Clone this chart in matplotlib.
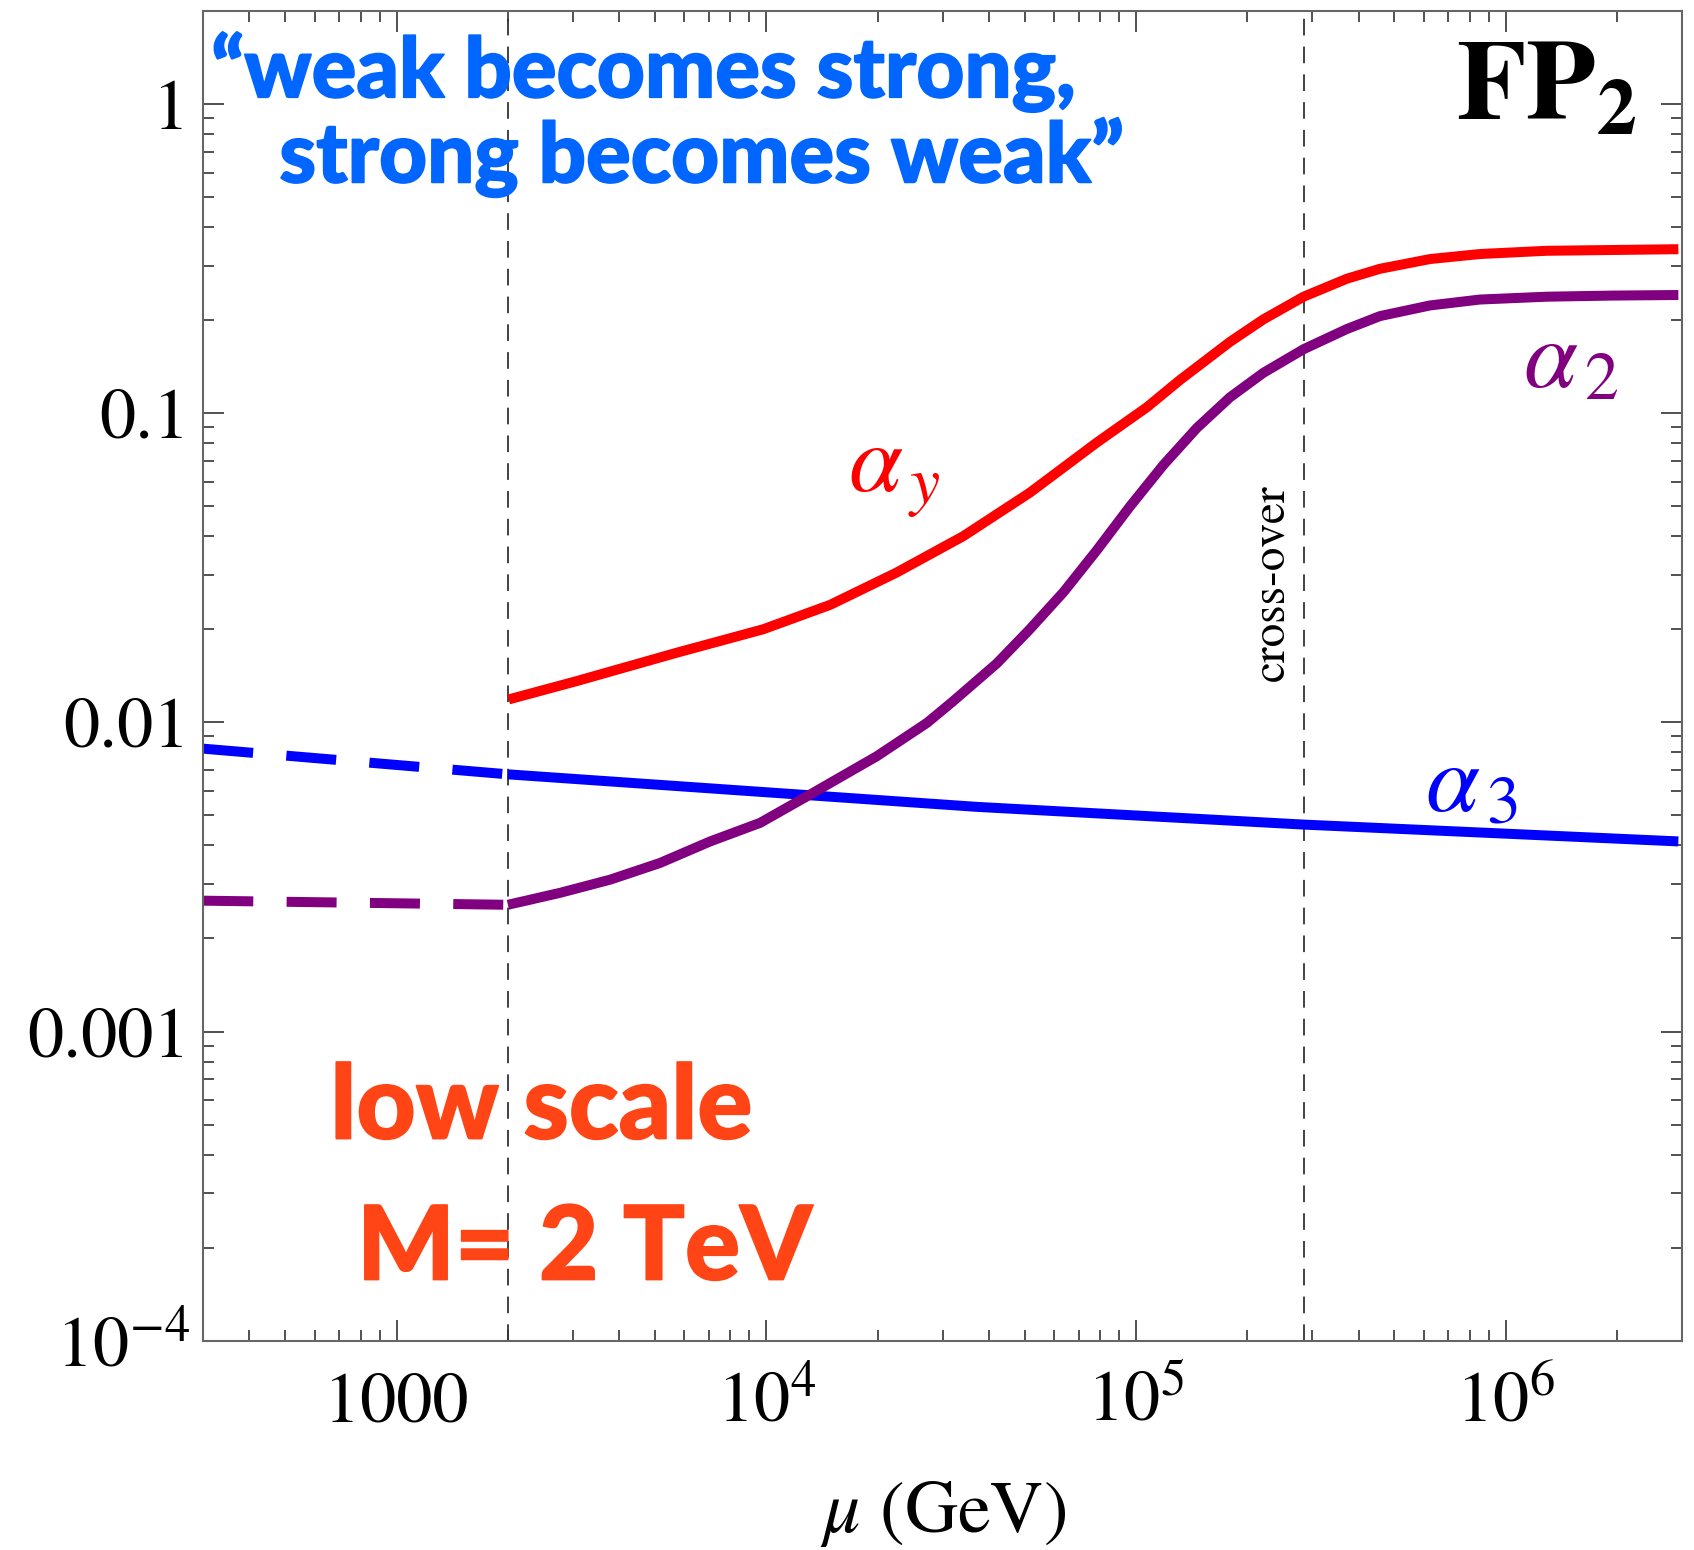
import numpy as np
import matplotlib
matplotlib.use("Agg")
import matplotlib.pyplot as plt
import matplotlib.patheffects as pe
from matplotlib.ticker import FixedLocator, LogLocator, NullFormatter

plt.rcParams['mathtext.fontset'] = 'stix'
plt.rcParams['font.family'] = ['STIXGeneral', 'DejaVu Serif']
plt.rcParams['lines.scale_dashes'] = False

# running couplings (mu in GeV)
mu_low = [300, 2000]
a3_low = [0.00822, 0.00679]
a2_low = [0.00265, 0.00257]

mu_a3 = [2000, 37000, 284000, 2.93e6]
a3 = [0.00679, 0.00533, 0.00467, 0.00412]

mu_ay = [2010, 3073, 5730, 9810, 14900, 22500, 34100, 51600, 78300, 107000,
         131500, 179500, 221000, 284000, 371500, 457000, 624000, 851000, 1.29e6, 1.95e6, 2.93e6]
ay = [0.01186, 0.0136, 0.0168, 0.0200, 0.0240, 0.0305, 0.0400, 0.0553, 0.0803, 0.1045,
      0.128, 0.170, 0.201, 0.238, 0.272, 0.293, 0.315, 0.327, 0.335, 0.337, 0.339]

mu_a2 = [2000, 2770, 3785, 5160, 7050, 9620, 13100, 19900, 27200, 32000, 42000, 51600,
         63700, 78300, 96400, 118600, 146000, 179500, 221000, 284000, 371500, 457000,
         624000, 851000, 1.29e6, 1.95e6, 2.93e6]
a2 = [0.00257, 0.00281, 0.0031, 0.00351, 0.00412, 0.00473, 0.00583, 0.00777, 0.00996, 0.0117,
      0.0155, 0.0200, 0.0264, 0.0360, 0.0500, 0.0680, 0.0895, 0.1125, 0.135, 0.161, 0.187,
      0.206, 0.223, 0.233, 0.238, 0.240, 0.241]

M_scale = 2000
mu_cross = 2.84e5

xticks = [1000, 1e4, 1e5, 1e6]
xlabels = ['1000', '$10^{4}$', '$10^{5}$', '$10^{6}$']
yticks = [1e-4, 1e-3, 1e-2, 0.1, 1]
ylabels = ['$10^{-4}$', '0.001', '0.01', '0.1', '1']

fig = plt.figure(figsize=(16.94, 15.5), dpi=100)
ax = fig.add_axes([0.120, 0.135, 0.873, 0.858])
ax.set_xscale('log')
ax.set_yscale('log')
ax.set_xlim(300, 3e6)
ax.set_ylim(1e-4, 2.0)

# vertical markers
for xv in [M_scale, mu_cross]:
    ax.axvline(xv, color='#333333', lw=1.3, dashes=(12, 8), zorder=1)

# curves
lw = 7.2
ax.plot(mu_low, a3_low, color='#0000ff', lw=lw, dashes=(36, 24), dash_capstyle='butt')
ax.plot(mu_low, a2_low, color='#800080', lw=lw, dashes=(36, 24), dash_capstyle='butt')
ax.plot(mu_a3, a3, color='#0000ff', lw=lw, solid_capstyle='butt')
ax.plot(mu_a2, a2, color='#800080', lw=lw, solid_joinstyle='round', solid_capstyle='butt')
ax.plot(mu_ay, ay, color='#ff0000', lw=lw, solid_joinstyle='round', solid_capstyle='butt')

# ticks
ax.xaxis.set_major_locator(FixedLocator(xticks))
ax.xaxis.set_minor_locator(LogLocator(base=10, subs=np.arange(2, 10)))
ax.xaxis.set_minor_formatter(NullFormatter())
ax.yaxis.set_major_locator(FixedLocator(yticks))
ax.yaxis.set_minor_locator(LogLocator(base=10, subs=np.arange(2, 10)))
ax.yaxis.set_minor_formatter(NullFormatter())
ax.set_xticklabels(xlabels)
ax.set_yticklabels(ylabels)
ax.tick_params(which='both', direction='in', top=True, right=True, color='#333333', width=1.2)
ax.tick_params(which='major', length=15, labelsize=52)
ax.tick_params(which='minor', length=8)
ax.tick_params(axis='y', pad=10)
ax.tick_params(axis='x', pad=58)
for lab in ax.get_xticklabels():
    lab.set_verticalalignment('baseline')
for sp in ax.spines.values():
    sp.set_color('#666666')
    sp.set_linewidth(1.5)

ax.set_xlabel(r'$\mu$ (GeV)', fontsize=53, labelpad=30)

# annotations
tr = ax.transAxes
sans = ['Lato', 'DejaVu Sans']
blue_txt = '#0066ff'
orange_txt = '#ff4516'
thick_b = [pe.withStroke(linewidth=1.2, foreground=blue_txt)]
thick_o = [pe.withStroke(linewidth=1.2, foreground=orange_txt)]
ax.text(0.0054, 0.935, '\u201cweak becomes strong,', transform=tr, color=blue_txt,
        fontsize=60, fontweight='black', family=sans, va='baseline', ha='left', path_effects=thick_b)
ax.text(0.0514, 0.871, 'strong becomes weak\u201d', transform=tr, color=blue_txt,
        fontsize=60, fontweight='black', family=sans, va='baseline', ha='left', path_effects=thick_b)
ax.text(0.9696, 0.939, r'$\mathbf{FP}_{\mathbf{2}}$', transform=tr, fontsize=82, ha='right', va='center')
ax.text(0.436, 0.639, r'$\alpha_{\,y}$', transform=tr, fontsize=70, color='#ff0000', va='baseline')
ax.text(0.8925, 0.717, r'$\alpha_{\,2}$', transform=tr, fontsize=70, color='#800080', va='baseline')
ax.text(0.826, 0.398, r'$\alpha_{\,3}$', transform=tr, fontsize=70, color='#0000ff', va='baseline')
ax.text(0.7228, 0.570, 'cross-over', transform=tr, fontsize=34, rotation=90, ha='center', va='center')
ax.text(0.0859, 0.152, 'low scale', transform=tr, color=orange_txt, fontsize=74,
        fontweight='black', family=sans, va='baseline', ha='left', path_effects=thick_o)
ax.text(0.104, 0.046, 'M= 2 TeV', transform=tr, color=orange_txt, fontsize=74,
        fontweight='black', family=sans, va='baseline', ha='left', path_effects=thick_o)

fig.savefig('out.png', dpi=100)
